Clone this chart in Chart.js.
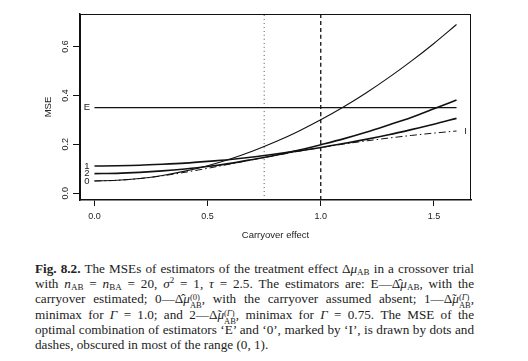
<!DOCTYPE html>
<html><head><meta charset="utf-8">
<script src="https://cdn.jsdelivr.net/npm/chart.js@4"></script>
<style>
html,body{margin:0;padding:0;background:#fff;width:528px;height:361px;overflow:hidden}
#wrap{position:absolute;left:0;top:0;width:528px;height:245px}
#cap{position:absolute;left:35px;top:261px;width:439px;font-family:"Liberation Serif","DejaVu Serif",serif;font-size:13.2px;color:#222}
.ln{height:15.2px;line-height:15.2px;text-align:justify;text-align-last:justify;overflow:visible;white-space:normal}
.ln.last{text-align-last:left}
sub,sup{font-size:9px;line-height:0}
sub{vertical-align:-2px}
sup{vertical-align:5px}
.st{display:inline-block;vertical-align:-5px;line-height:8px;font-size:8.5px;text-align:left;text-align-last:left}
.st span{display:block}
</style></head>
<body>
<div id="wrap"><canvas id="c" width="528" height="245"></canvas></div>
<div id="cap">
<div class="ln"><b>Fig. 8.2.</b> The MSEs of estimators of the treatment effect Δ<i>μ</i><sub>AB</sub> in a crossover trial</div>
<div class="ln">with <i>n</i><sub>AB</sub> = <i>n</i><sub>BA</sub> = 20, <i>σ</i><sup>2</sup> = 1, <i>τ</i> = 2.5. The estimators are: E—Δ̂<i>μ</i><sub>AB</sub>, with the</div>
<div class="ln">carryover estimated; 0—Δ̂<i>μ</i><span class="st"><span>(0)</span><span>AB</span></span>, with the carryover assumed absent; 1—Δ̃<i>μ</i><span class="st"><span>(<i>Γ</i>)</span><span>AB</span></span>,</div>
<div class="ln">minimax for <i>Γ</i> = 1.0; and 2—Δ̃<i>μ</i><span class="st"><span>(<i>Γ</i>)</span><span>AB</span></span>, minimax for <i>Γ</i> = 0.75. The MSE of the</div>
<div class="ln">optimal combination of estimators ‘E’ and ‘0’, marked by ‘I’, is drawn by dots and</div>
<div class="ln last">dashes, obscured in most of the range (0, 1).</div>
</div>
<script>
// ---- data ----
const carryover = [0,0.1,0.2,0.3,0.4,0.5,0.6,0.7,0.8,0.9,1.0,1.1,1.2,1.3,1.4,1.5,1.6];
const mseE = [0.35,0.35,0.35,0.35,0.35,0.35,0.35,0.35,0.35,0.35,0.35,0.35,0.35,0.35,0.35,0.35,0.35];
const mse0 = [0.050,0.0525,0.060,0.0725,0.090,0.1125,0.140,0.1725,0.210,0.2525,0.300,0.3525,0.410,0.4725,0.540,0.6125,0.690];
const mse1 = [0.111,0.112,0.114,0.118,0.123,0.130,0.138,0.148,0.160,0.173,0.187,0.203,0.220,0.239,0.260,0.282,0.306];
const mse2 = [0.080,0.081,0.085,0.091,0.099,0.109,0.122,0.138,0.155,0.175,0.198,0.222,0.249,0.279,0.310,0.345,0.381];
const mseI = [0.050,0.0525,0.0597,0.0709,0.0853,0.1017,0.1192,0.137,0.1543,0.1709,0.1864,0.2006,0.2136,0.2254,0.2361,0.2457,0.2543];
const xTicks = [0,0.5,1.0,1.5];
const yTicks = [0,0.2,0.4,0.6];
const xRange = [-0.064,1.664];
const yRange = [-0.028,0.733];
const gammaLines = [0.75,1.0];
const curveNames = ['E','0','1','2','I'];

const pts = arr => carryover.map((x,i)=>({x:x,y:arr[i]}));
const vline = x => [{x:x,y:yRange[0]},{x:x,y:yRange[1]}];
const FONT = 'Liberation Sans, Arial, sans-serif';

const ds = [
  {label:'E', data:pts(mseE), borderWidth:1.1, order:2},
  {label:'0', data:pts(mse0), borderWidth:1.1, order:2},
  {label:'1', data:pts(mse1), borderWidth:1.6, order:1},
  {label:'2', data:pts(mse2), borderWidth:1.6, order:1},
  {label:'I', data:pts(mseI), borderWidth:1, borderDash:[7,3,1.5,3], order:5},
  {label:'g1', data:vline(gammaLines[0]), borderWidth:1, borderDash:[1,3], order:6, borderColor:'#555'},
  {label:'g2', data:vline(gammaLines[1]), borderWidth:1.3, borderDash:[4,3], order:6}
].map(d=>Object.assign({showLine:true,pointRadius:0,borderColor:'#111',backgroundColor:'#111',cubicInterpolationMode:'monotone',fill:false},d));

const decor = {
  id:'decor',
  afterDraw(chart){
    const {ctx, chartArea:a, scales:{x,y}} = chart;
    ctx.save();
    ctx.strokeStyle='#111'; ctx.lineWidth=1;
    ctx.strokeRect(a.left+0.5,a.top+0.5,a.right-a.left-1,a.bottom-a.top-1);
    ctx.fillStyle='#222';
    ctx.font='9px '+FONT;
    ctx.textAlign='center'; ctx.textBaseline='middle';
    yTicks.forEach(v=>{
      const py=y.getPixelForValue(v);
      ctx.save(); ctx.translate(a.left-14,py); ctx.rotate(-Math.PI/2);
      ctx.fillText(v.toFixed(1),0,0); ctx.restore();
    });
    ctx.save(); ctx.translate(a.left-32,(a.top+a.bottom)/2); ctx.rotate(-Math.PI/2);
    ctx.font='9.5px '+FONT; ctx.fillText('MSE',0,0); ctx.restore();
    // curve labels
    ctx.font='9.5px '+FONT;
    chart.data.datasets.forEach(d=>{
      if(!curveNames.includes(d.label)) return;
      if(d.label==='I'){
        const p=d.data[d.data.length-1];
        ctx.fillText('I',x.getPixelForValue(p.x)+9,y.getPixelForValue(p.y));
      } else {
        const p=d.data[0];
        ctx.fillText(d.label,x.getPixelForValue(p.x)-7.5,y.getPixelForValue(p.y));
      }
    });
    ctx.restore();
  }
};

new Chart(document.getElementById('c'),{
  type:'scatter',
  data:{datasets:ds},
  options:{
    responsive:false, animation:false,
    layout:{padding:{top:14,right:57,left:0,bottom:0}},
    plugins:{legend:{display:false},tooltip:{enabled:false}},
    scales:{
      x:{type:'linear',min:xRange[0],max:xRange[1],
        afterBuildTicks:s=>{s.ticks=xTicks.map(v=>({value:v}));},
        grid:{display:true,drawOnChartArea:false,drawTicks:true,tickLength:6,color:'#111',lineWidth:1},
        border:{display:true,color:'#111',width:1.5},
        ticks:{font:{family:FONT,size:9},color:'#222',padding:5,autoSkip:false,maxRotation:0,callback:v=>Number(v).toFixed(1)},
        title:{display:true,text:'Carryover effect',font:{family:FONT,size:9.5},color:'#222',padding:{top:4,bottom:4}},
        afterFit:s=>{s.height=45;}
      },
      y:{type:'linear',min:yRange[0],max:yRange[1],
        afterBuildTicks:s=>{s.ticks=yTicks.map(v=>({value:v}));},
        grid:{display:true,drawOnChartArea:false,drawTicks:true,tickLength:7,color:'#111',lineWidth:1},
        border:{display:true,color:'#111',width:1.5},
        ticks:{display:false},
        afterFit:s=>{s.width=80;}
      }
    }
  },
  plugins:[decor]
});
</script>
</body></html>
